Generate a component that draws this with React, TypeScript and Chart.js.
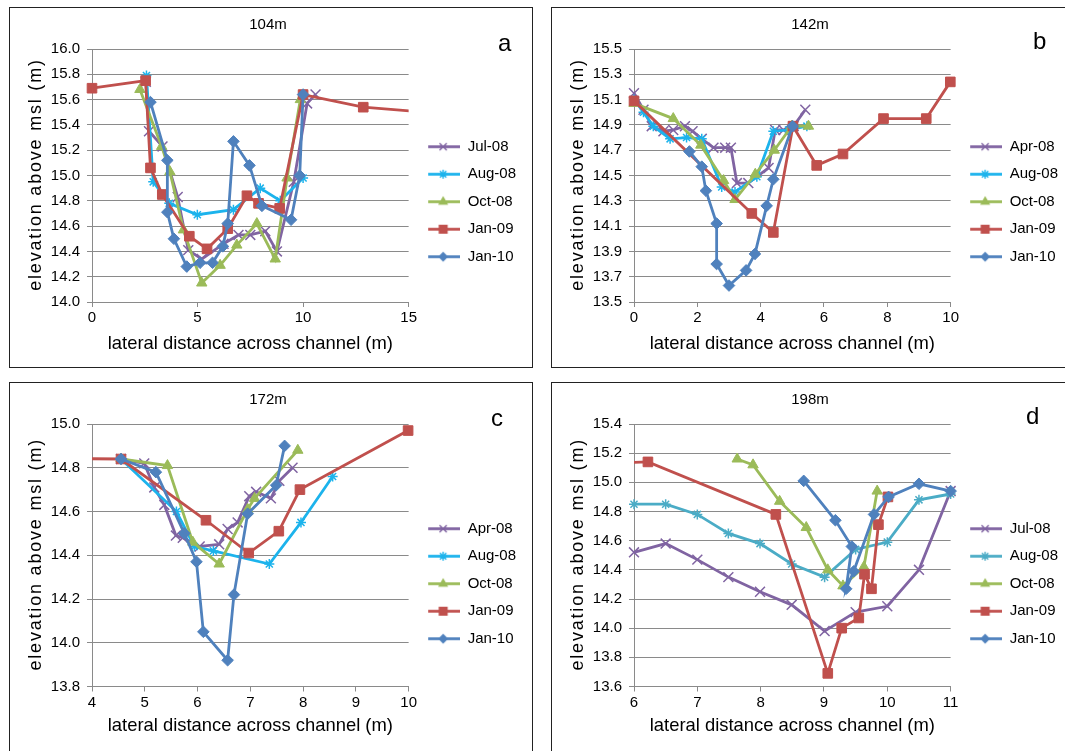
import React, { useEffect, useRef } from 'react';
import { Chart, registerables } from 'chart.js';

Chart.register(...registerables);

const FONT = '"Liberation Sans", Arial, Helvetica, sans-serif';
const GRID = '#8a8a8a';

const PURPLE = '#8064a2';
const CYAN = '#1cb3ec';
const TEAL = '#4bacc6';
const GREEN = '#9bbb59';
const RED = '#c0504d';
const BLUE = '#4f81bd';

const X_TITLE = 'lateral distance across channel (m)';
const Y_TITLE = 'elevation above msl (m)';

// ---- Panel a: 104m ----
const A_LABELS = ['Jul-08', 'Aug-08', 'Oct-08', 'Jan-09', 'Jan-10'];
const A_JUL08 = [[2.55, 15.74], [2.7, 15.35], [3.34, 15.23], [4.06, 14.83], [4.56, 14.41], [5.2, 14.34], [6.23, 14.46], [6.94, 14.53], [7.5, 14.53], [8.21, 14.56], [8.76, 14.4], [9.56, 14.95], [10.19, 15.57], [10.59, 15.64]];
const A_AUG08 = [[2.58, 15.79], [2.9, 14.95], [3.66, 14.78], [4.99, 14.69], [6.7, 14.73], [7.97, 14.9], [8.92, 14.8], [10.0, 14.98]];
const A_OCT08 = [[2.27, 15.68], [3.3, 15.23], [3.69, 15.03], [4.33, 14.57], [5.2, 14.15], [6.07, 14.29], [6.86, 14.45], [7.81, 14.62], [8.68, 14.34], [9.24, 14.98], [9.87, 15.6]];
const A_JAN09 = [[0, 15.69], [2.54, 15.75], [2.77, 15.06], [3.33, 14.85], [4.61, 14.52], [5.45, 14.42], [6.43, 14.58], [7.34, 14.84], [7.89, 14.78], [8.89, 14.74], [10.0, 15.64], [12.85, 15.54], [16.5, 15.49]];
const A_JAN10 = [[2.77, 15.58], [3.57, 15.12], [3.57, 14.71], [3.88, 14.5], [4.49, 14.28], [5.12, 14.31], [5.71, 14.31], [6.2, 14.44], [6.43, 14.62], [6.7, 15.27], [7.46, 15.08], [8.05, 14.76], [9.43, 14.65], [9.84, 15.0], [10.0, 15.64]];

// ---- Panel b: 142m ----
const B_LABELS = ['Apr-08', 'Aug-08', 'Oct-08', 'Jan-09', 'Jan-10'];
const B_APR08 = [[0, 15.15], [0.3, 15.02], [0.56, 14.89], [0.93, 14.85], [1.24, 14.86], [1.61, 14.89], [1.85, 14.85], [2.14, 14.79], [2.51, 14.72], [2.88, 14.72], [3.06, 14.72], [3.25, 14.44], [3.61, 14.44], [4.25, 14.56], [4.46, 14.86], [4.72, 14.86], [5.04, 14.89], [5.41, 15.02]];
const B_AUG08 = [[0, 15.1], [0.3, 15.0], [0.61, 14.89], [1.14, 14.79], [1.66, 14.8], [2.14, 14.79], [2.77, 14.41], [3.19, 14.37], [3.88, 14.49], [4.4, 14.85], [4.88, 14.86], [5.46, 14.89]];
const B_OCT08 = [[0, 15.07], [1.24, 14.95], [2.11, 14.74], [2.83, 14.46], [3.19, 14.31], [3.83, 14.51], [4.43, 14.7], [4.98, 14.89], [5.51, 14.89]];
const B_JAN09 = [[0, 15.09], [3.72, 14.2], [4.4, 14.05], [5.02, 14.89], [5.77, 14.58], [6.6, 14.67], [7.88, 14.95], [9.23, 14.95], [9.99, 15.24]];
const B_JAN10 = [[1.75, 14.69], [2.14, 14.57], [2.27, 14.38], [2.61, 14.12], [2.61, 13.8], [3.0, 13.63], [3.54, 13.75], [3.82, 13.88], [4.19, 14.26], [4.4, 14.47], [5.01, 14.89]];

// ---- Panel c: 172m ----
const C_LABELS = ['Apr-08', 'Aug-08', 'Oct-08', 'Jan-09', 'Jan-10'];
const C_APR08 = [[4.55, 14.84], [4.99, 14.82], [5.18, 14.71], [5.37, 14.63], [5.59, 14.49], [5.72, 14.48], [6.04, 14.44], [6.41, 14.45], [6.57, 14.52], [6.76, 14.55], [6.98, 14.67], [7.11, 14.69], [7.39, 14.66], [7.55, 14.74], [7.8, 14.8]];
const C_AUG08 = [[4.55, 14.84], [5.6, 14.6], [5.94, 14.44], [6.3, 14.42], [7.36, 14.36], [7.96, 14.55], [8.56, 14.76]];
const C_OCT08 = [[4.55, 14.84], [5.43, 14.81], [5.91, 14.46], [6.41, 14.36], [6.95, 14.61], [7.08, 14.66], [7.9, 14.88]];
const C_JAN09 = [[3.0, 14.843], [4.55, 14.84], [6.16, 14.56], [6.97, 14.41], [7.54, 14.51], [7.94, 14.7], [9.99, 14.97]];
const C_JAN10 = [[4.55, 14.84], [5.21, 14.78], [5.75, 14.5], [5.98, 14.37], [6.11, 14.05], [6.57, 13.92], [6.69, 14.22], [6.95, 14.59], [7.49, 14.72], [7.65, 14.9]];

// ---- Panel d: 198m ----
const D_LABELS = ['Jul-08', 'Aug-08', 'Oct-08', 'Jan-09', 'Jan-10'];
const D_JUL08 = [[6, 14.52], [6.5, 14.58], [7.0, 14.47], [7.49, 14.35], [7.99, 14.25], [8.49, 14.16], [9.01, 13.98], [9.5, 14.11], [10.0, 14.15], [10.5, 14.4], [11.0, 14.94]];
const D_AUG08 = [[6, 14.85], [6.5, 14.85], [7.0, 14.78], [7.49, 14.65], [7.99, 14.58], [8.49, 14.44], [9.01, 14.35], [9.5, 14.54], [10.0, 14.59], [10.5, 14.88], [11.0, 14.92]];
const D_OCT08 = [[7.63, 15.16], [7.88, 15.12], [8.3, 14.87], [8.72, 14.69], [9.06, 14.4], [9.3, 14.29], [9.63, 14.42], [9.84, 14.94]];
const D_JAN09 = [[5.5, 15.13], [6.22, 15.14], [8.24, 14.78], [9.06, 13.69], [9.28, 14.0], [9.55, 14.07], [9.64, 14.37], [9.75, 14.27], [9.86, 14.71], [10.01, 14.9]];
const D_JAN10 = [[8.68, 15.01], [9.18, 14.74], [9.44, 14.56], [9.35, 14.27], [9.47, 14.39], [9.79, 14.78], [10.02, 14.9], [10.5, 14.99], [11.0, 14.94]];

const MARKERS = ['crossRot', 'star', 'triangle', 'rect', 'rectRot'];
const RADII = [7, 5, 6, 6.8, 5.8];
const MARK_BORDER = [1.5, 1.5, 1, 1, 1];

function legendImage(color: string, style: string): HTMLCanvasElement {
  const c = document.createElement('canvas');
  c.width = 39;
  c.height = 15;
  const g = c.getContext('2d') as CanvasRenderingContext2D;
  g.strokeStyle = color;
  g.fillStyle = color;
  g.lineWidth = 2.8;
  g.beginPath();
  g.moveTo(7, 7.5);
  g.lineTo(39, 7.5);
  g.stroke();
  const cx = 22;
  const cy = 7.5;
  g.lineWidth = 1.4;
  g.beginPath();
  if (style === 'crossRot') {
    const d = 3.6;
    g.moveTo(cx - d, cy - d); g.lineTo(cx + d, cy + d);
    g.moveTo(cx + d, cy - d); g.lineTo(cx - d, cy + d);
    g.stroke();
  } else if (style === 'star') {
    const r = 4.5, d = 3.2;
    g.moveTo(cx, cy - r); g.lineTo(cx, cy + r);
    g.moveTo(cx - r, cy); g.lineTo(cx + r, cy);
    g.moveTo(cx - d, cy - d); g.lineTo(cx + d, cy + d);
    g.moveTo(cx + d, cy - d); g.lineTo(cx - d, cy + d);
    g.stroke();
  } else if (style === 'triangle') {
    const r = 5.8;
    g.moveTo(cx, cy - r);
    g.lineTo(cx + r * 0.866, cy + r / 2);
    g.lineTo(cx - r * 0.866, cy + r / 2);
    g.closePath();
    g.fill();
  } else if (style === 'rect') {
    g.fillRect(cx - 4.5, cy - 4.5, 9, 9);
  } else {
    const r = 5;
    g.moveTo(cx, cy - r); g.lineTo(cx + r, cy); g.lineTo(cx, cy + r); g.lineTo(cx - r, cy);
    g.closePath();
    g.fill();
  }
  return c;
}

// Vertical axis title drawn with a little letter spacing, as in the source figure
const yTitlePlugin = {
  id: 'yTitleSpaced',
  afterDraw(chart: any) {
    const { ctx, chartArea } = chart;
    ctx.save();
    ctx.translate(26, (chartArea.top + chartArea.bottom) / 2);
    ctx.rotate(-Math.PI / 2);
    ctx.font = `18px ${FONT}`;
    (ctx as any).letterSpacing = '1.8px';
    ctx.fillStyle = '#000';
    ctx.textAlign = 'center';
    ctx.textBaseline = 'middle';
    ctx.fillText(Y_TITLE, 1, 0);
    ctx.restore();
  },
};

type Series = { label: string; points: number[][]; color: string; clip?: any };
type PanelCfg = {
  left: number; top: number; width: number; height: number;
  title: string; letter: string; letterLeft: number; letterTop: number;
  xMin: number; xMax: number; xStep: number;
  yMin: number; yMax: number; yStep: number;
  xAxisHeight: number; xTitlePad: number;
  series: Series[];
};

const CLIP_ALL = 10;

const PANELS: PanelCfg[] = [
  {
    left: 9, top: 7, width: 524, height: 361, title: '104m', letter: 'a', letterLeft: 498, letterTop: 31,
    xMin: 0, xMax: 15, xStep: 5, yMin: 14, yMax: 16, yStep: 0.2, xAxisHeight: 65, xTitlePad: 12.5,
    series: [
      { label: A_LABELS[0], points: A_JUL08, color: PURPLE },
      { label: A_LABELS[1], points: A_AUG08, color: CYAN },
      { label: A_LABELS[2], points: A_OCT08, color: GREEN },
      { label: A_LABELS[3], points: A_JAN09, color: RED, clip: { left: 10, right: 0, top: 10, bottom: 10 } },
      { label: A_LABELS[4], points: A_JAN10, color: BLUE },
    ],
  },
  {
    left: 551, top: 7, width: 524, height: 361, title: '142m', letter: 'b', letterLeft: 1033, letterTop: 29,
    xMin: 0, xMax: 10, xStep: 2, yMin: 13.5, yMax: 15.5, yStep: 0.2, xAxisHeight: 65, xTitlePad: 12.5,
    series: [
      { label: B_LABELS[0], points: B_APR08, color: PURPLE },
      { label: B_LABELS[1], points: B_AUG08, color: CYAN },
      { label: B_LABELS[2], points: B_OCT08, color: GREEN },
      { label: B_LABELS[3], points: B_JAN09, color: RED },
      { label: B_LABELS[4], points: B_JAN10, color: BLUE },
    ],
  },
  {
    left: 9, top: 382, width: 524, height: 375, title: '172m', letter: 'c', letterLeft: 491, letterTop: 406,
    xMin: 4, xMax: 10, xStep: 1, yMin: 13.8, yMax: 15.0, yStep: 0.2, xAxisHeight: 69.5, xTitlePad: 19.5,
    series: [
      { label: C_LABELS[0], points: C_APR08, color: PURPLE },
      { label: C_LABELS[1], points: C_AUG08, color: CYAN },
      { label: C_LABELS[2], points: C_OCT08, color: GREEN },
      { label: C_LABELS[3], points: C_JAN09, color: RED, clip: { left: 0, right: 10, top: 10, bottom: 10 } },
      { label: C_LABELS[4], points: C_JAN10, color: BLUE },
    ],
  },
  {
    left: 551, top: 382, width: 524, height: 375, title: '198m', letter: 'd', letterLeft: 1026, letterTop: 404,
    xMin: 6, xMax: 11, xStep: 1, yMin: 13.6, yMax: 15.4, yStep: 0.2, xAxisHeight: 69.5, xTitlePad: 19.5,
    series: [
      { label: D_LABELS[0], points: D_JUL08, color: PURPLE },
      { label: D_LABELS[1], points: D_AUG08, color: TEAL },
      { label: D_LABELS[2], points: D_OCT08, color: GREEN },
      { label: D_LABELS[3], points: D_JAN09, color: RED, clip: { left: 0, right: 10, top: 10, bottom: 10 } },
      { label: D_LABELS[4], points: D_JAN10, color: BLUE },
    ],
  },
];

function Panel({ cfg }: { cfg: PanelCfg }) {
  const ref = useRef<HTMLCanvasElement | null>(null);
  const cw = cfg.width - 2;
  const ch = cfg.height - 2;

  useEffect(() => {
    if (!ref.current) return;
    const imgs = cfg.series.map((s, i) => legendImage(s.color, MARKERS[i]));
    const datasets = cfg.series.map((s, i) => ({
      label: s.label,
      data: s.points.map(([x, y]) => ({ x, y })),
      showLine: true,
      borderColor: s.color,
      backgroundColor: s.color,
      borderWidth: 2.8,
      tension: 0,
      pointStyle: MARKERS[i],
      pointRadius: RADII[i],
      pointBorderWidth: MARK_BORDER[i],
      pointBackgroundColor: s.color,
      pointBorderColor: s.color,
      order: 5 - i,
      clip: s.clip !== undefined ? s.clip : CLIP_ALL,
    }));
    const chart = new Chart(ref.current, {
      type: 'scatter',
      data: { datasets } as any,
      plugins: [yTitlePlugin],
      options: {
        animation: false,
        responsive: false,
        events: [],
        layout: { padding: { left: 0, top: 0, right: 6, bottom: 0 } },
        plugins: {
          title: {
            display: true, text: cfg.title, color: '#000',
            font: { family: FONT, size: 15, weight: 'normal' },
            padding: { top: 8, bottom: 15 },
          },
          legend: {
            position: 'right',
            align: 'center',
            title: { display: true, text: ' ', font: { family: FONT, size: 10 }, padding: 8.2 },
            labels: {
              usePointStyle: true,
              pointStyleWidth: 39,
              padding: 12.5,
              color: '#000',
              font: { family: FONT, size: 15 },
              generateLabels: (c: any) =>
                c.data.datasets.map((ds: any, i: number) => ({
                  text: ds.label,
                  pointStyle: imgs[i],
                  datasetIndex: i,
                  fillStyle: 'rgba(0,0,0,0)',
                  strokeStyle: 'rgba(0,0,0,0)',
                  lineWidth: 0,
                  hidden: false,
                  fontColor: '#000',
                })),
            },
          },
          tooltip: { enabled: false },
        },
        scales: {
          x: {
            type: 'linear',
            min: cfg.xMin,
            max: cfg.xMax,
            afterFit: (s: any) => { s.height = cfg.xAxisHeight; },
            ticks: {
              stepSize: cfg.xStep, autoSkip: false, padding: 2, color: '#000',
              font: { family: FONT, size: 15 },
              callback: (v: any) => String(v),
            },
            grid: { display: true, drawOnChartArea: false, drawTicks: true, tickLength: 5, color: GRID },
            border: { display: true, color: GRID, width: 1 },
            title: {
              display: true, text: X_TITLE, color: '#000',
              font: { family: FONT, size: 18.4 },
              padding: { top: 0, bottom: cfg.xTitlePad },
            },
          },
          y: {
            type: 'linear',
            min: cfg.yMin,
            max: cfg.yMax,
            afterFit: (s: any) => { s.width = 82; },
            ticks: {
              stepSize: cfg.yStep, autoSkip: false, padding: 7, color: '#000',
              font: { family: FONT, size: 15 },
              callback: (v: any) => Number(v).toFixed(1),
            },
            grid: { color: GRID, drawTicks: true, tickLength: 5 },
            border: { display: true, color: GRID, width: 1 },
            title: { display: false },
          },
        },
      } as any,
    });
    return () => chart.destroy();
  }, [cfg]);

  return (
    <>
      <div
        style={{
          position: 'absolute', left: cfg.left, top: cfg.top, width: cfg.width, height: cfg.height,
          boxSizing: 'border-box', border: '1px solid #222', background: '#fff',
        }}
      >
        <canvas ref={ref} width={cw} height={ch} style={{ display: 'block', width: cw, height: ch }} />
      </div>
      <div
        style={{
          position: 'absolute', left: cfg.letterLeft, top: cfg.letterTop, fontFamily: FONT,
          fontSize: 24, lineHeight: '24px', color: '#000',
        }}
      >
        {cfg.letter}
      </div>
    </>
  );
}

export default function App() {
  return (
    <div style={{ position: 'fixed', left: 0, top: 0, width: 1065, height: 751, overflow: 'hidden', background: '#fff' }}>
      {PANELS.map((p) => (
        <Panel key={p.title} cfg={p} />
      ))}
    </div>
  );
}
